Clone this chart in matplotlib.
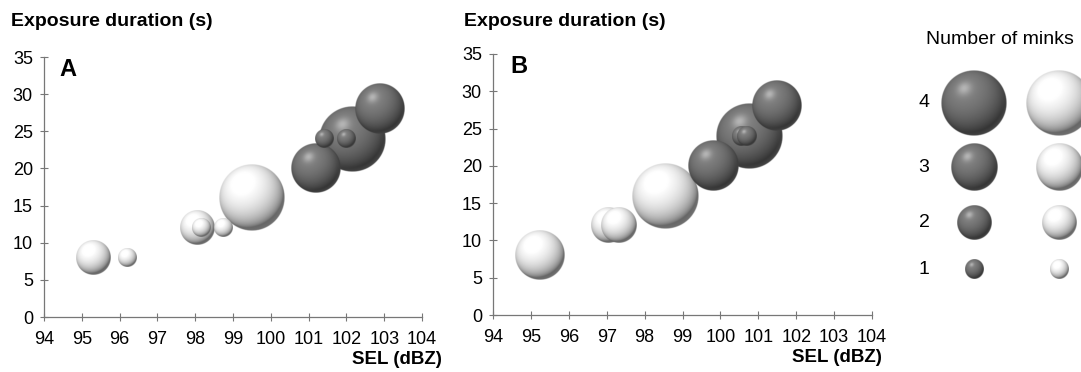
import numpy as np
import matplotlib.pyplot as plt

plt.rcParams['font.family'] = ['Liberation Sans', 'DejaVu Sans']

# panel A: SEL (dBZ), exposure duration (s), number of minks, dark (1) / light (0)
a_sel = [95.3, 96.2, 98.05, 98.17, 98.76, 99.5, 101.2, 102.15, 101.43, 102.0, 102.9]
a_dur = [8, 8, 12, 12, 12, 16, 20, 24, 24, 24, 28]
a_n = [2, 1, 2, 1, 1, 4, 3, 4, 1, 1, 3]
a_dark = [0, 0, 0, 0, 0, 0, 1, 1, 1, 1, 1]

# panel B
b_sel = [95.25, 97.05, 97.32, 98.55, 99.8, 100.75, 100.55, 100.7, 101.5]
b_dur = [8, 12, 12, 16, 20, 24, 24, 24, 28]
b_n = [3, 2, 2, 4, 3, 4, 1, 1, 3]
b_dark = [0, 0, 0, 0, 1, 1, 1, 1, 1]

legend_counts = [4, 3, 2, 1]
x_ticks = list(range(94, 105))
y_ticks = list(range(0, 36, 5))

# bubble radius in pixels per number of minks
radius_px = {1: 9.5, 2: 17.5, 3: 25, 4: 33}

W, H = 1081, 372


def sphere(dark, n=160):
    u = np.linspace(-1, 1, n)
    uu, vv = np.meshgrid(u, -u)
    r = np.sqrt(uu ** 2 + vv ** 2)
    nz = np.sqrt(np.clip(1 - r ** 2, 0, 1))
    L = np.array([-0.3, 0.45, 0.84])
    L = L / np.linalg.norm(L)
    diff = np.clip(uu * L[0] + vv * L[1] + nz * L[2], 0, 1)
    spec = diff ** 40
    if dark:
        g = 0.21 + 0.30 * diff + 0.2 * spec
    else:
        g = 0.40 + 0.62 * diff ** 0.7 + 0.2 * spec
    # faint reflected light on the lower-right rim
    rim = np.clip(r - 0.85, 0, 0.15) / 0.15 * np.clip(uu - vv, 0, 1.5) / 1.5
    g = g + (0.08 if dark else 0.05) * rim
    g = np.clip(g, 0, 1)
    alpha = np.clip((1 - r) * n / 2.5, 0, 1)
    img = np.dstack([g, g, g, alpha])
    return img


def draw_bubble(ax, x, y, rpx, dark, z):
    bb = ax.get_position()
    ppx = bb.width * W / (ax.get_xlim()[1] - ax.get_xlim()[0])
    ppy = bb.height * H / (ax.get_ylim()[1] - ax.get_ylim()[0])
    rx = rpx / ppx
    ry = rpx / ppy
    ax.imshow(sphere(dark), extent=(x - rx, x + rx, y - ry, y + ry),
              aspect='auto', interpolation='bilinear', zorder=z, clip_on=False)


def panel(rect, sel, dur, n, dark, letter, letter_xy, title_xy, xlabel_xy):
    ax = fig.add_axes(rect)
    ax.set_xlim(94, 104)
    ax.set_ylim(0, 35)
    order = sorted(range(len(sel)), key=lambda i: -n[i])
    for k, i in enumerate(order):
        draw_bubble(ax, sel[i], dur[i], radius_px[n[i]], dark[i], 3 + k)
    ax.set_xlim(94, 104)
    ax.set_ylim(0, 35)
    for s in ['top', 'right']:
        ax.spines[s].set_visible(False)
    for s in ['left', 'bottom']:
        ax.spines[s].set_color('#777777')
        ax.spines[s].set_linewidth(0.9)
    ax.set_xticks(x_ticks)
    ax.set_yticks(y_ticks)
    ax.tick_params(direction='inout', length=6, width=0.8, color='#777777',
                   labelsize=13, labelcolor='black')
    ax.tick_params(axis='x', pad=7)
    ax.tick_params(axis='y', pad=5)
    fig.text(letter_xy[0] / W, 1 - letter_xy[1] / H, letter, fontsize=17,
             fontweight='bold', ha='left', va='top')
    fig.text(title_xy[0] / W, 1 - title_xy[1] / H, 'Exposure duration (s)',
             fontsize=14, fontweight='bold', ha='left', va='center')
    fig.text(xlabel_xy[0] / W, 1 - xlabel_xy[1] / H, 'SEL (dBZ)',
             fontsize=13.5, fontweight='bold', ha='right', va='center')
    return ax


fig = plt.figure(figsize=(W / 100, H / 100), dpi=100)

panel([44 / W, 1 - 317 / H, 378 / W, 260 / H], a_sel, a_dur, a_n, a_dark,
      'A', (59, 58), (11, 22), (442, 360))
panel([493 / W, 1 - 315 / H, 379 / W, 261 / H], b_sel, b_dur, b_n, b_dark,
      'B', (510, 55), (464, 22), (882, 358))

# legend
lax = fig.add_axes([880 / W, 1 - 300 / H, 201 / W, 260 / H])
lax.set_xlim(880, 1081)
lax.set_ylim(H - 300, H - 40)
lax.axis('off')
row_y = {4: 103, 3: 168, 2: 223, 1: 270}
for c in legend_counts:
    yy = H - row_y[c]
    draw_bubble(lax, 974, yy, radius_px[c] if c != 3 else 23.5, 1, 3)
    draw_bubble(lax, 1059, yy, radius_px[c] if c != 3 else 23.5, 0, 3)
    lax.text(924, yy, str(c), fontsize=14, ha='center', va='center')
lax.set_xlim(880, 1081)
lax.set_ylim(H - 300, H - 40)
fig.text(1000 / W, 1 - 39 / H, 'Number of minks', fontsize=14,
         ha='center', va='center')

fig.savefig('out.png', dpi=100)
